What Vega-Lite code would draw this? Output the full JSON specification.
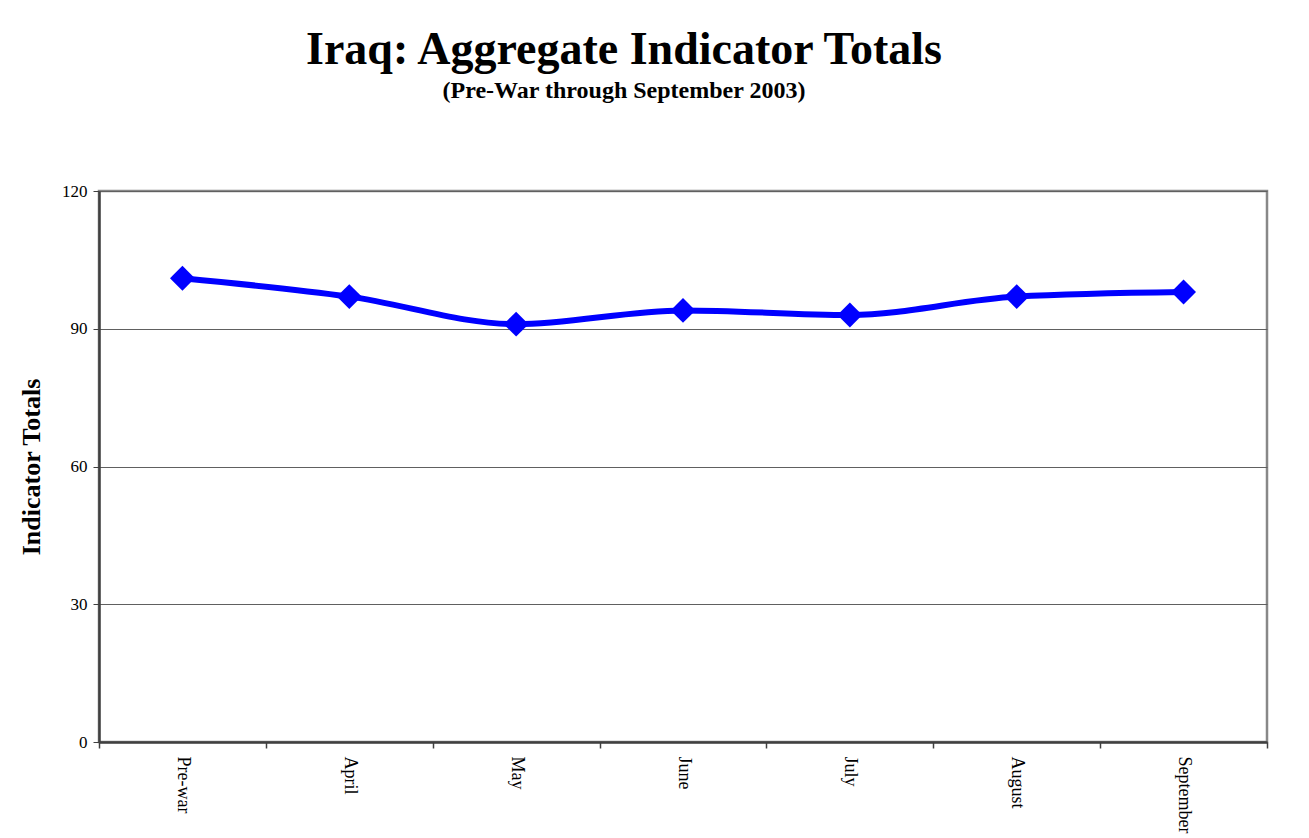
{
  "$schema": "https://vega.github.io/schema/vega-lite/v6.json",
  "width": 1168,
  "height": 551,
  "autosize": {"type": "none"},
  "padding": {"left": 99, "top": 191, "right": 42, "bottom": 96},
  "background": "white",
  "title": {
    "text": "Iraq: Aggregate Indicator Totals",
    "subtitle": "(Pre-War through September 2003)",
    "anchor": "middle",
    "frame": "group",
    "dx": -59,
    "offset": 78,
    "font": "Liberation Serif",
    "fontSize": 46,
    "fontWeight": "bold",
    "color": "black",
    "subtitleFont": "Liberation Serif",
    "subtitleFontSize": 24,
    "subtitleFontWeight": "bold",
    "subtitleColor": "black",
    "subtitlePadding": 5
  },
  "data": {
    "values": [
      {"period": "Pre-war", "total": 101},
      {"period": "April", "total": 97},
      {"period": "May", "total": 91},
      {"period": "June", "total": 94},
      {"period": "July", "total": 93},
      {"period": "August", "total": 97},
      {"period": "September", "total": 98}
    ]
  },
  "encoding": {
    "x": {
      "field": "period",
      "type": "nominal",
      "sort": null,
      "bandPosition": 0.5,
      "scale": {"type": "band", "paddingInner": 0, "paddingOuter": 0},
      "axis": {
        "title": null,
        "labelAngle": 90,
        "labelAlign": "left",
        "labelBaseline": "middle",
        "labelFont": "Liberation Serif",
        "labelFontSize": 18,
        "labelColor": "black",
        "labelPadding": 8,
        "tickBand": "extent",
        "tickSize": 6,
        "tickColor": "#404040",
        "tickWidth": 1.5,
        "domainColor": "#404040",
        "domainWidth": 2.5,
        "grid": false
      }
    },
    "y": {
      "field": "total",
      "type": "quantitative",
      "scale": {"domain": [0, 120], "nice": false},
      "axis": {
        "title": "Indicator Totals",
        "titleFont": "Liberation Serif",
        "titleFontSize": 26,
        "titleFontWeight": "bold",
        "titleColor": "black",
        "titlePadding": 17,
        "values": [0, 30, 60, 90, 120],
        "labelFont": "Liberation Serif",
        "labelFontSize": 17,
        "labelColor": "black",
        "labelPadding": 6,
        "tickSize": 6,
        "tickColor": "#404040",
        "domainColor": "#404040",
        "domainWidth": 2.5,
        "grid": true,
        "gridColor": "#606060",
        "gridWidth": 1
      }
    }
  },
  "layer": [
    {
      "mark": {"type": "line", "color": "#0000FF", "strokeWidth": 6, "interpolate": "monotone"}
    },
    {
      "mark": {"type": "point", "shape": "diamond", "filled": true, "color": "#0000FF", "size": 620, "opacity": 1}
    }
  ],
  "config": {
    "view": {"stroke": "#888888", "strokeWidth": 2.5}
  }
}
